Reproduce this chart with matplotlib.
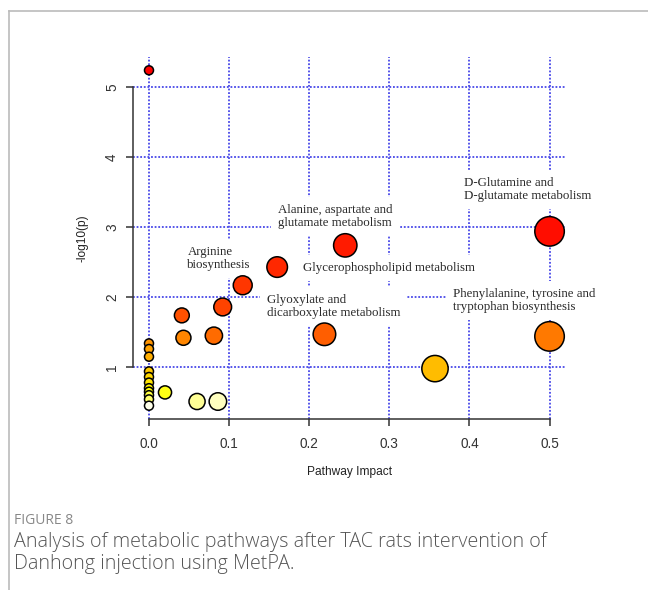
import numpy as np
import matplotlib.pyplot as plt
from matplotlib.colors import hsv_to_rgb
from matplotlib.lines import Line2D

# pathway impact (x) and -log10(p) (y)
impact = [0.0, 0.5, 0.245, 0.160, 0.117, 0.092, 0.041, 0.219, 0.081, 0.5,
          0.043, 0.0, 0.0, 0.0, 0.357, 0.0, 0.0, 0.0, 0.0, 0.0,
          0.020, 0.0, 0.0, 0.060, 0.086, 0.0]
logp = [5.24, 2.94, 2.74, 2.43, 2.17, 1.86, 1.74, 1.47, 1.45, 1.44,
        1.42, 1.34, 1.26, 1.15, 0.98, 0.94, 0.86, 0.78, 0.70, 0.65,
        0.64, 0.60, 0.54, 0.51, 0.51, 0.45]

labels = ["Arginine\nbiosynthesis",
          "Alanine, aspartate and\nglutamate metabolism",
          "Glycerophospholipid metabolism",
          "Glyoxylate and\ndicarboxylate metabolism",
          "D-Glutamine and\nD-glutamate metabolism",
          "Phenylalanine, tyrosine and\ntryptophan biosynthesis"]
label_x = [0.048, 0.161, 0.192, 0.147, 0.393, 0.379]
label_y = [2.55, 3.15, 2.41, 1.87, 3.54, 1.95]

xticks = [0.0, 0.1, 0.2, 0.3, 0.4, 0.5]
yticks = [1, 2, 3, 4, 5]


def heat_colors(n):
    # same scheme as R's heat.colors()
    j = n // 4
    i = n - j
    hsv = [(h, 1, 1) for h in np.linspace(0, 1 / 6, i)]
    if j > 0:
        hsv += [(1 / 6, s, 1) for s in np.linspace(1 - 1 / (2 * j), 1 / (2 * j), j)]
    return hsv_to_rgb(np.array(hsv))


x = np.array(impact)
y = np.array(logp)
order = np.argsort(-y, kind="stable")
cols = np.zeros((len(y), 3))
cols[order] = heat_colors(len(y))

radius_px = 4.5 + 14.5 * np.sqrt(x)
sizes = (radius_px * 2 * 0.72) ** 2

fig = plt.figure(figsize=(6.48, 5.90), dpi=100)
ax = fig.add_axes([0.2052, 0.2898, 0.6676, 0.6136])
ax.set_xlim(-0.02, 0.52)
ax.set_ylim(0.26, 5.43)

grid_kw = dict(color="#4848e8", linestyle=(0, (1, 1)), linewidth=1.3, zorder=1)
for t in xticks:
    ax.axvline(t, **grid_kw)
for t in yticks:
    ax.axhline(t, **grid_kw)

for lx, ly, s in zip(label_x, label_y, labels):
    ax.text(lx, ly, s, fontsize=9.3, family="Liberation Serif", color="#2a2a2a",
            va="center", ha="left", linespacing=1.08, zorder=2,
            bbox=dict(facecolor="white", edgecolor="none", pad=5))

ax.scatter(x, y, s=sizes, c=cols, edgecolors="black", linewidths=1.1, zorder=3)

for side in ["top", "right"]:
    ax.spines[side].set_visible(False)
ax.spines["left"].set_bounds(1, 5)
ax.spines["bottom"].set_bounds(0, 0.5)
for side in ["left", "bottom"]:
    ax.spines[side].set_color("#333333")
    ax.spines[side].set_linewidth(1.1)

ax.set_xticks(xticks)
ax.set_xticklabels([f"{t:.1f}" for t in xticks])
ax.set_yticks(yticks)
ax.set_yticklabels([str(t) for t in yticks], rotation=90, va="center")
ax.tick_params(axis="both", length=5, width=1.1, color="#333333",
               labelsize=9.8, labelcolor="#333333")
ax.tick_params(axis="x", pad=8)
ax.tick_params(axis="y", pad=5)
for lab in ax.get_xticklabels() + ax.get_yticklabels():
    lab.set_family("Liberation Sans")

ax.set_xlabel("Pathway Impact", fontsize=8.6, family="Liberation Sans",
              color="#222222", labelpad=11)
ax.set_ylabel("-log10(p)", fontsize=8.6, family="Liberation Sans",
              color="#222222", labelpad=12)

# page frame
fig.add_artist(Line2D([9 / 648, 1], [1 - 11 / 590, 1 - 11 / 590],
                      color="#bbbbbb", linewidth=1.2))
fig.add_artist(Line2D([9 / 648, 9 / 648], [0, 1 - 11 / 590],
                      color="#bbbbbb", linewidth=1.2))

fig.text(14 / 648, 1 - 520 / 590, "FIGURE 8", fontsize=10, family="Open Sans",
         color="#888888", va="center")
fig.text(14 / 648, 1 - 553 / 590,
         "Analysis of metabolic pathways after TAC rats intervention of\n"
         "Danhong injection using MetPA.",
         fontsize=14.2, family="Open Sans", color="#555555", va="center",
         linespacing=1.1, fontweight="light")

fig.savefig("out.png", dpi=100)
